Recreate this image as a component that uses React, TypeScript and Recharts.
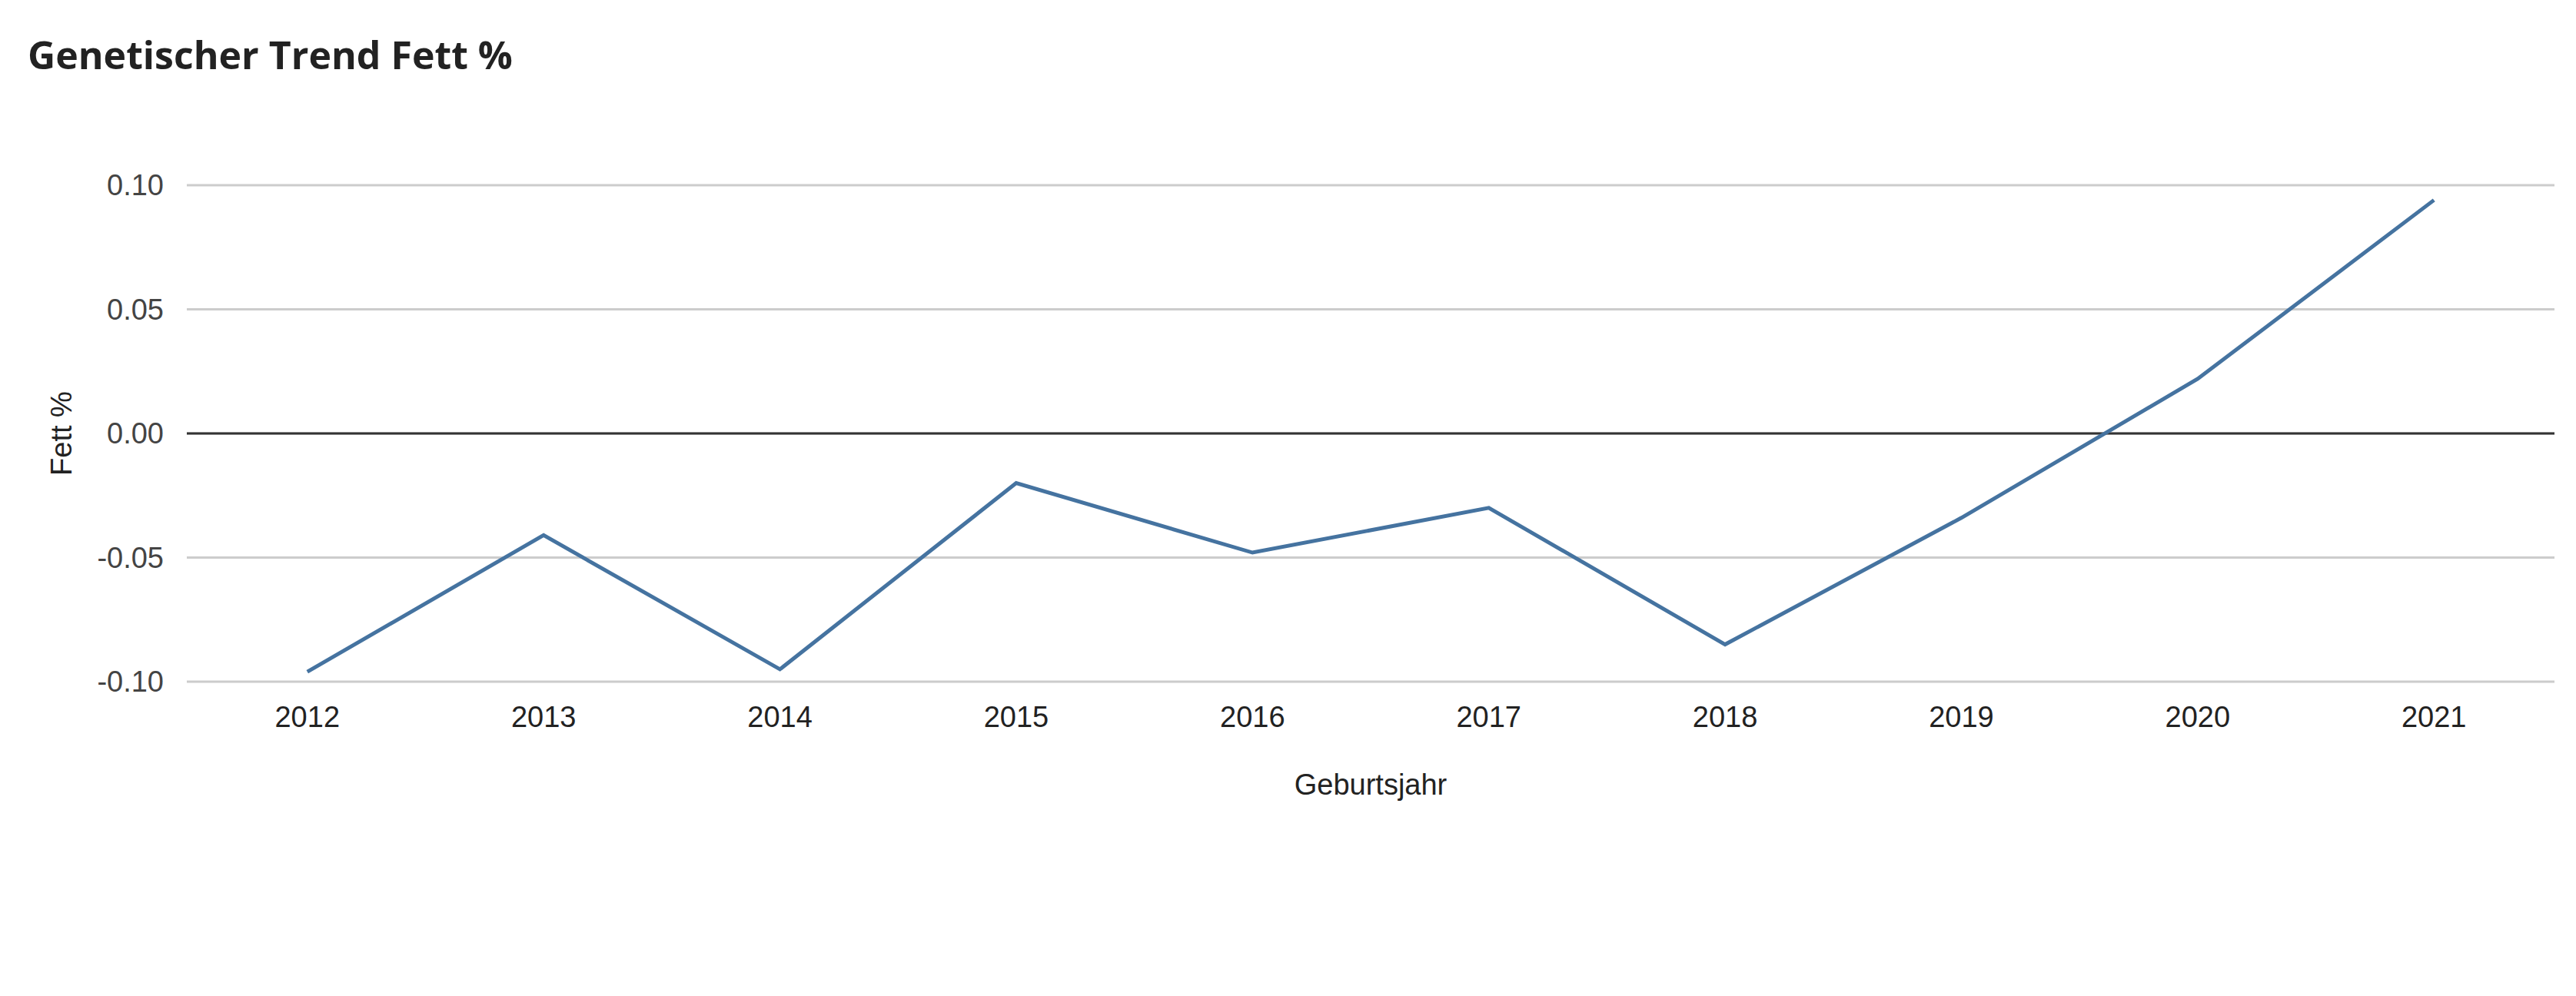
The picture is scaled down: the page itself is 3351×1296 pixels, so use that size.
import React from 'react';
import { LineChart, Line, XAxis, YAxis, CartesianGrid, ReferenceLine } from 'recharts';

const years = [2012, 2013, 2014, 2015, 2016, 2017, 2018, 2019, 2020, 2021];
const fettValues = [-0.096, -0.041, -0.095, -0.02, -0.048, -0.03, -0.085, -0.034, 0.022, 0.094];
const yTicks = [-0.1, -0.05, 0, 0.05, 0.1];

const data = years.map((year, i) => ({ year, fett: fettValues[i] }));

const FONT = 'Arial, "Liberation Sans", sans-serif';

const YTitle = ({ viewBox }: any) => {
  const cx = viewBox.x + 37;
  const cy = viewBox.y + viewBox.height / 2;
  return (
    <text
      x={cx}
      y={cy}
      transform={`rotate(-90 ${cx} ${cy})`}
      textAnchor="middle"
      dominantBaseline="central"
      fontFamily={FONT}
      fontSize={38}
      fill="#222"
    >
      Fett %
    </text>
  );
};

const XTitle = ({ viewBox }: any) => (
  <text
    x={viewBox.x + 1540}
    y={1034}
    textAnchor="middle"
    fontFamily={FONT}
    fontSize={38}
    fill="#222"
  >
    Geburtsjahr
  </text>
);

export default function App() {
  return (
    <div style={{ position: 'absolute', left: 0, top: 0, width: 3351, height: 1296, background: '#fff' }}>
      <div
        style={{
          position: 'absolute',
          left: 36,
          top: 46,
          fontFamily: '"Open Sans", sans-serif',
          fontWeight: 700,
          fontSize: 50,
          lineHeight: '50px',
          color: '#222',
          whiteSpace: 'nowrap',
        }}
      >
        Genetischer Trend Fett %
      </div>
      <div style={{ position: 'absolute', left: 0, top: 0 }}>
        <LineChart width={3351} height={1296} data={data} margin={{ top: 241, right: 28, bottom: 209, left: 43 }}>
          <CartesianGrid vertical={false} stroke="#cccccc" strokeWidth={3} />
          <XAxis
            dataKey="year"
            type="number"
            domain={[2011.49, 2021.51]}
            ticks={years}
            allowDataOverflow
            axisLine={false}
            tickLine={false}
            tickSize={0}
            tickMargin={32}
            height={200}
            interval={0}
            tick={{ fontFamily: FONT, fontSize: 38, fill: '#222' }}
            label={<XTitle />}
          />
          <YAxis
            type="number"
            domain={[-0.1, 0.1]}
            ticks={yTicks}
            width={200}
            axisLine={false}
            tickLine={false}
            tickSize={0}
            tickMargin={30}
            interval={0}
            tickFormatter={(v: number) => v.toFixed(2)}
            tick={{ fontFamily: FONT, fontSize: 38, fill: '#444' }}
            label={<YTitle />}
          />
          <ReferenceLine y={0} stroke="#333" strokeWidth={3} />
          <Line
            type="linear"
            dataKey="fett"
            stroke="#4573a0"
            strokeWidth={5}
            dot={false}
            activeDot={false}
            isAnimationActive={false}
          />
        </LineChart>
      </div>
    </div>
  );
}
